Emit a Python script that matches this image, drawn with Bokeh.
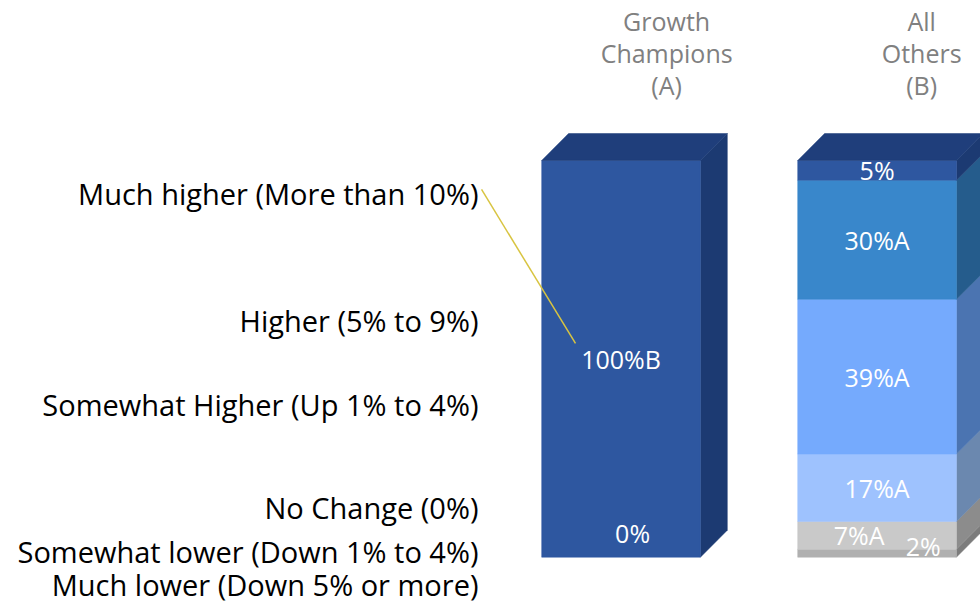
import numpy as np
from bokeh.plotting import figure
from bokeh.models import Range1d
from bokeh.core.properties import value
from bokeh.embed import file_html
from bokeh.resources import INLINE

# ---------------- data ----------------
groups = ["Growth\nChampions\n(A)", "All\nOthers\n(B)"]
categories = [
    "Much lower (Down 5% or more)",
    "Somewhat lower (Down 1% to 4%)",
    "No Change (0%)",
    "Somewhat Higher (Up 1% to 4%)",
    "Higher (5% to 9%)",
    "Much higher (More than 10%)",
]
growth_champions = [0, 0, 0, 0, 0, 100]
all_others = [2, 7, 17, 39, 30, 5]
sig_champions = ["", "", "", "", "", "B"]
sig_others = ["", "A", "A", "A", "A", ""]

# ---------------- styles ----------------
FONT = "Open Sans"
front_colors = ["#B0B0B0", "#C9C9C9", "#9EC2FE", "#75AAFD", "#3987CB", "#2E57A0"]
side_colors = ["#7C7C7C", "#8C8C8C", "#6B88AF", "#4B74B1", "#255C8C", "#1C3A72"]
top_color = "#1F3E7B"
bar_w = 0.62
dx, dy = 0.105, 6.8          # 3-D depth offset (x units, percent units)
label_x = -0.557             # right edge of category labels
label_y = [-6.9, 1.4, 12.5, 38.5, 59.7, 91.7]

p = figure(width=980, height=606, output_backend="svg", toolbar_location=None,
           x_range=Range1d(-2.424, 1.404), y_range=Range1d(-12.43, 140.33),
           min_border=0)
p.axis.visible = False
p.grid.visible = False
p.outline_line_color = None
p.background_fill_color = "white"
p.border_fill_color = "white"

series = [growth_champions, all_others]
sigs = [sig_champions, sig_others]

for gi, vals in enumerate(series):
    vals = np.array(vals, dtype=float)
    tops = np.cumsum(vals)
    bots = tops - vals
    xc = gi
    xl, xr = xc - bar_w / 2, xc + bar_w / 2
    for ci in range(len(vals)):
        if vals[ci] <= 0:
            continue
        b, t = bots[ci], tops[ci]
        p.patch([xr, xr + dx, xr + dx, xr], [b, b + dy, t + dy, t],
                fill_color=side_colors[ci], line_color=side_colors[ci], line_width=0.5)
        p.quad(left=xl, right=xr, bottom=b, top=t,
               fill_color=front_colors[ci], line_color=front_colors[ci], line_width=0.5)
    T = tops[-1]
    p.patch([xl, xl + dx, xr + dx, xr], [T, T + dy, T + dy, T],
            fill_color=top_color, line_color=top_color, line_width=0.5)

# value labels
lab_x, lab_y, lab_t = [], [], []
offsets_b = {0: (0.18, 1.7), 1: (-0.07, 0.0)}
for gi, vals in enumerate(series):
    vals = np.array(vals, dtype=float)
    tops = np.cumsum(vals)
    bots = tops - vals
    for ci in range(len(vals)):
        v = vals[ci]
        txt = f"{int(v)}%{sigs[gi][ci]}"
        if gi == 0:
            if v > 0:
                lab_x.append(gi); lab_y.append(bots[ci] + v / 2); lab_t.append(txt)
            elif ci == 0:
                lab_x.append(gi + 0.045); lab_y.append(6.0); lab_t.append(txt)
        else:
            ox, oy = offsets_b.get(ci, (0.0, 0.0))
            lab_x.append(gi + ox); lab_y.append(bots[ci] + v / 2 + oy); lab_t.append(txt)

p.text(x=lab_x, y=lab_y, text=lab_t, text_color="white", text_font=value(FONT),
       text_font_size="25px", text_align="center", text_baseline="middle")

# category labels
p.text(x=[label_x] * len(categories), y=label_y, text=categories, text_color="black",
       text_font=value(FONT), text_font_size="29px", text_align="right",
       text_baseline="middle")

# leader line from top category label to its bar value
top_mid = growth_champions[-1] / 2 + sum(growth_champions[:-1])
p.line([label_x + 0.012, 0 - 0.178], [label_y[-1] + 1.0, top_mid + 3.9],
       line_color="#D8C441", line_width=1.5)

# group headers
p.text(x=[0.178, 1.174], y=[127.0, 127.0], text=groups, text_color="#808080",
       text_font=value(FONT), text_font_size="25px", text_align="center",
       text_baseline="middle", text_line_height=0.94)

open("out.html", "w").write(file_html(p, INLINE))
